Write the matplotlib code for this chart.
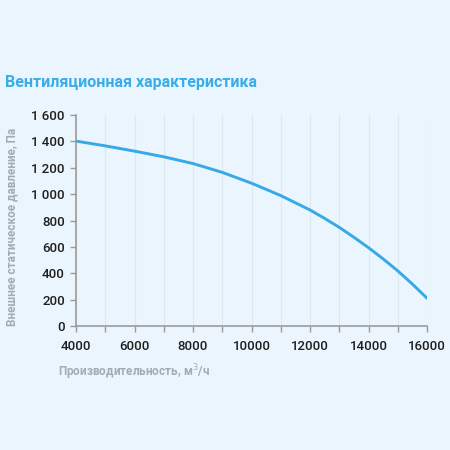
import matplotlib
matplotlib.use("Agg")
import matplotlib.pyplot as plt
import numpy as np

flow = [4000, 5000, 6000, 7000, 8000, 9000, 10000, 11000, 12000, 12500, 13000, 13500, 14000, 14500, 15000, 15500, 16000]
pressure = [1402, 1366, 1326, 1283, 1232, 1165, 1083, 989, 880, 816, 748, 673, 594, 509, 418, 318, 211]

xticks = [4000, 6000, 8000, 10000, 12000, 14000, 16000]
yticks = [0, 200, 400, 600, 800, 1000, 1200, 1400, 1600]
ytick_labels = ["0", "200", "400", "600", "800", "1 000", "1 200", "1 400", "1 600"]

title = "Вентиляционная характеристика"
xlabel = "Производительность, м$^3$/ч"
ylabel = "Внешнее статическое давление, Па"

bg = "#EBF5FD"
plt.rcParams['font.family'] = ['Roboto', 'DejaVu Sans']

fig = plt.figure(figsize=(4.5, 4.5), dpi=100, facecolor=bg)
ax = fig.add_axes([76/450, 1-326/450, (427-76)/450, (326-115)/450], facecolor=bg)

ax.plot(flow, pressure, color="#35AAE6", lw=2.1, solid_capstyle="round", solid_joinstyle="round")

ax.set_xlim(4000, 16000)
ax.set_ylim(0, 1600)
ax.set_xticks(xticks)
ax.set_xticks(np.arange(4000, 16001, 1000), minor=True)
ax.set_yticks(yticks)
ax.set_yticklabels(ytick_labels)
ax.grid(True, which="both", axis="x", color="#DDE8F1", lw=0.8)
ax.set_axisbelow(True)

for s in ["top", "right"]:
    ax.spines[s].set_visible(False)
for s in ["left", "bottom"]:
    ax.spines[s].set_color("#9A9A9A")
    ax.spines[s].set_linewidth(1.2)

ax.tick_params(axis="both", which="both", color="#9A9A9A", width=1.0, length=4,
               labelsize=9.5, labelcolor="#1E1E1E")
ax.tick_params(axis="x", which="major", pad=6)
ax.tick_params(axis="y", pad=4)
for lab in ax.get_xticklabels() + ax.get_yticklabels():
    lab.set_fontweight("medium")

fig.text(5/450, 1-82/450, title, color="#3AADE8", fontsize=11.5, fontweight="bold",
         va="center", ha="left")
fig.text(58/450, 1-372/450, xlabel, color="#A4ABB3", fontsize=8.5, fontweight="bold",
         va="center", ha="left")
fig.text(12/450, 1-326/450, ylabel, color="#A4ABB3", fontsize=8.5, fontweight="bold",
         va="bottom", ha="center", rotation=90)

fig.savefig("out.png", dpi=100, facecolor=bg)
